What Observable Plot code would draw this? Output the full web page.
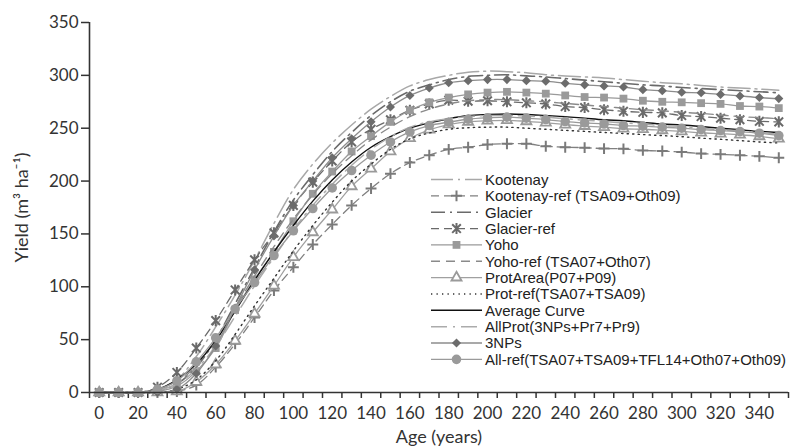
<!DOCTYPE html>
<html><head><meta charset="utf-8">
<script src="https://cdn.jsdelivr.net/npm/d3@7"></script>
<script src="https://cdn.jsdelivr.net/npm/@observablehq/plot@0.6"></script>
<style>
body{margin:0;background:#fff}
#chart{position:relative;width:794px;height:448px}
</style>
</head><body><div id="chart"></div>
<script>
// ---- data ----
const ages = [0,10,20,30,40,50,60,70,80,90,100,110,120,130,140,150,160,170,180,190,200,210,220,230,240,250,260,270,280,290,300,310,320,330,340,350];
const seriesNames = ["Kootenay","Kootenay-ref (TSA09+Oth09)","Glacier","Glacier-ref","Yoho","Yoho-ref (TSA07+Oth07)","ProtArea(P07+P09)","Prot-ref(TSA07+TSA09)","Average Curve","AllProt(3NPs+Pr7+Pr9)","3NPs","All-ref(TSA07+TSA09+TFL14+Oth07+Oth09)"];
const kootenay    = [0,0,0,3,12,34,62,92,125,160,192,216,236,253,268,280,290,296,300,303,304,303.5,302.5,300.6,299.5,298.5,297.5,296,294.5,293,292,290.5,289,288,287,286];
const kootenayRef = [0,0,0,0,1,7,24,46,71,96.5,118.5,140,159,177,193,207,217.5,224.5,230,232,234.6,235.3,235.3,233,232,231.6,230.7,230.5,229,228.4,227.4,226,225.3,224.4,223.4,222];
const glacier     = [0,0,0,2,8,24,50,84,118,152,182,206,228,246,262,275,285,291,296,299,300,300.5,299.5,298.5,297,295.5,294,292.5,291,290,288.5,287.5,286.5,285.5,284.5,283.5];
const glacierRef  = [0,0,0,5,19,42,68,97,125.5,151,177,199,219,237,249,258,267,273,276.5,275.5,276,275,274,273,270.5,269.5,267.5,266,265,264.5,262,261,259.5,258,256.5,256];
const yoho        = [0,0,0,1,6,20,42,78,107,133,162,188,209,228,242.5,256,267,274.5,279,282,283.7,284.4,283.7,282.7,281,279.5,279,278,276,275,274.5,273.7,273,271,270.5,269];
const yohoRef     = [0,0,0,2,9,26,50,80,110,138,164,187,207,224,239,251,261,268,273,276,277,277,276,275,273.5,272,270.5,269,267.5,266.5,265,264,262.5,261,260,259];
const protArea    = [0,0,0,0,1,10,26.5,49,74.5,101,128,151.5,173,195,211.6,228,240.5,248.5,253.5,256,257,257.5,256.5,255.2,253.3,252,251,249.5,249,248,247,245.7,244.8,243.8,242.3,240];
const protRef     = [0,0,0,0,3,12,30,55,82,108,134,158,180,200,216,230,240,245.5,249,250.5,251,251,250,249,248,247,246,245,244,243,242,240.6,239.5,238.3,237,236];
const average     = [0,0,0,3,12,27,49,77,106,133,158,181,201,218,232,242,250,255,259,262,263,263.5,263,262,261,259.5,258,257,255.5,254,253,251.6,250,248.5,247,246];
const allProt     = [0,0,0,2,8,22,44,72,101,128,154,177,197,215,230,242,251,256,259,261,262,262,261.5,260.5,259,257.5,256.5,255,254,252.5,251.5,250,248.5,247.5,246,244.5];
const threeNPs    = [0,0,0,0,3,18,44,80,116,148,177,200,222,240,256,270,281,288,293,295,296,296,295,294.5,292.5,291,290,289,286.5,285.5,284,283.5,282,280.5,279,278];
const allRef      = [0,0,0,3,11,29,51.7,79,104,129.6,153,174,193.5,210,224.5,237,246.5,252.5,255.7,258.5,259.8,260.5,259.5,258.2,256.3,255,254,252.5,252,251,250,248.7,247.8,246.8,245.3,243];
const yTicks = [0,50,100,150,200,250,300,350];
const xTickLabels = [0,20,40,60,80,100,120,140,160,180,200,220,240,260,280,300,320,340];
const xTickMarks = [-5,5,15,25,35,45,55,65,75,85,95,105,115,125,135,145,155,165,175,185,195,205,215,225,235,245,255,265,275,285,295,305,315,325,335,345,355];

// ---- styles (not data) ----
const excelStar = {
  draw(ctx, size) {
    const h = Math.sqrt(size / Math.PI) * 1.2;
    const d = h * 0.78;
    ctx.moveTo(0, -h); ctx.lineTo(0, h);
    ctx.moveTo(-d, -d); ctx.lineTo(d, d);
    ctx.moveTo(-d, d); ctx.lineTo(d, -d);
  }
};
const seriesValues = [kootenay,kootenayRef,glacier,glacierRef,yoho,yohoRef,protArea,protRef,average,allProt,threeNPs,allRef];
const styles = [
  {stroke:"#a8a8a8", dash:"22,5,2,5", w:1.5},
  {stroke:"#808080", dash:"8,5", w:1.3, symbol:"plus", r:3.6, mfill:"none", mstroke:"#7a7a7a", mw:2},
  {stroke:"#6a6a6a", dash:"14,5,2,5", w:1.6},
  {stroke:"#6a6a6a", dash:"8,5", w:1.3, symbol:excelStar, r:4.6, mfill:"none", mstroke:"#6a6a6a", mw:2},
  {stroke:"#9a9a9a", dash:null, w:1.3, symbol:"square", r:4.4, mfill:"#9a9a9a", mstroke:"none"},
  {stroke:"#8a8a8a", dash:"9,6", w:1.4},
  {stroke:"#a0a0a0", dash:null, w:1.3, symbol:"triangle2", r:4.8, mfill:"white", mstroke:"#9a9a9a", mw:1.8},
  {stroke:"#333333", dash:"1.3,4.2", w:1.4},
  {stroke:"#111111", dash:null, w:1.4},
  {stroke:"#ababab", dash:"16,6,2,6", w:1.5},
  {stroke:"#8c8c8c", dash:null, w:1.3, symbol:"diamond2", r:4.1, mfill:"#6c6c6c", mstroke:"none"},
  {stroke:"#9a9a9a", dash:null, w:1.3, symbol:"circle", r:4.8, mfill:"#9a9a9a", mstroke:"none"}
];

const rowsFor = (vals) => ages.map((a,i)=>({age:a, value:vals[i]}));

const marks = [
  Plot.axisY({ticks: yTicks, tickSize: 8, tickPadding: 3, fontSize: 17, label: null, stroke:"#333", strokeWidth:1.5}),
  Plot.axisX({ticks: xTickMarks, tickSize: 6, tickFormat: () => "", label: null, stroke:"#333", strokeWidth:1.5}),
  Plot.axisX({ticks: xTickLabels, tickSize: 0, tickPadding: 14, fontSize: 17, label: null}),
];
seriesValues.forEach((vals, i) => {
  const s = styles[i];
  const rows = rowsFor(vals);
  marks.push(Plot.line(rows, {x:"age", y:"value", stroke:s.stroke, strokeWidth:s.w, strokeDasharray:s.dash || undefined, curve:"catmull-rom"}));
  if (s.symbol) {
    marks.push(Plot.dot(rows, {x:"age", y:"value", symbol:s.symbol, r:s.r, fill:s.mfill, stroke:s.mstroke, strokeWidth:s.mw || 1}));
  }
});
marks.push(Plot.ruleX([-5], {stroke:"#333", strokeWidth:1.6}));
marks.push(Plot.ruleY([0], {stroke:"#333", strokeWidth:1.6}));
marks.push(Plot.text(["Yield (m³ ha⁻¹)"], {frameAnchor:"left", dx:-67, rotate:-90, fontSize:18, fill:"#333", textAnchor:"middle", lineAnchor:"middle"}));
marks.push(Plot.text(["Age (years)"], {frameAnchor:"bottom", dy:45, fontSize:18, fill:"#333", textAnchor:"middle", lineAnchor:"middle"}));

const chart = Plot.plot({
  width: 794, height: 448,
  marginLeft: 89, marginRight: 6, marginTop: 22, marginBottom: 56,
  style: {fontFamily: "Lato, 'Open Sans', sans-serif", fontSize: "17px", color:"#333", background:"#fff"},
  x: {domain: [-5, 355]},
  y: {domain: [0, 350]},
  marks
});
document.getElementById("chart").appendChild(chart);

// ---- legend drawn inside the plot svg ----
const svg = d3.select(chart);
const lg = svg.append("g").attr("class","legend").attr("text-anchor","start");
const symbolMap = {plus:d3.symbolPlus, square:d3.symbolSquare, triangle2:d3.symbolTriangle2, diamond2:d3.symbolDiamond2, circle:d3.symbolCircle};
seriesNames.forEach((name, i) => {
  const s = styles[i];
  const y = 179.5 + i*16.35;
  lg.append("line").attr("x1",431).attr("x2",482).attr("y1",y).attr("y2",y)
    .attr("stroke",s.stroke).attr("stroke-width",s.w).attr("stroke-dasharray", s.dash || null);
  if (s.symbol) {
    const sym = typeof s.symbol === "string" ? symbolMap[s.symbol] : s.symbol;
    lg.append("path").attr("transform",`translate(456.5,${y})`)
      .attr("d", d3.symbol(sym, Math.PI*s.r*s.r)())
      .attr("fill", s.mfill).attr("stroke", s.mstroke).attr("stroke-width", s.mw || 1);
  }
  lg.append("text").attr("x",485).attr("y",y).attr("dy","0.36em").attr("text-anchor","start")
    .attr("font-family","'Liberation Sans', Arial, sans-serif").attr("font-size",15).attr("fill","#222")
    .text(name);
});
</script>
</body></html>
